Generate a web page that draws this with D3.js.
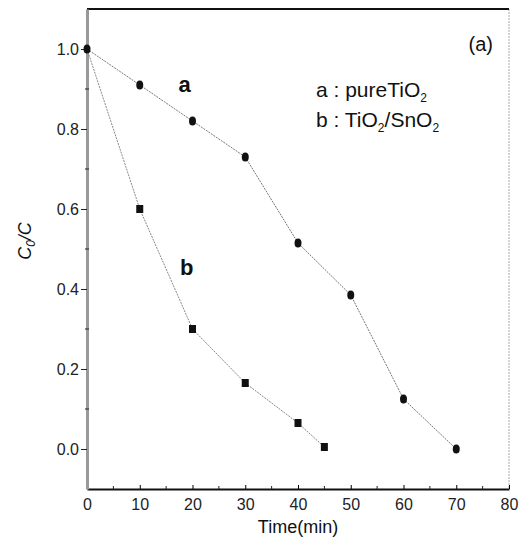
<!DOCTYPE html>
<html>
<head>
<meta charset="utf-8">
<script src="https://cdn.jsdelivr.net/npm/d3@7"></script>
<style>
  body { margin: 0; background: #fff; }
  svg { display: block; font-family: "Liberation Sans", Arial, sans-serif; }
</style>
</head>
<body>
<svg id="chart"></svg>
<script>
// data
var timeA = [0, 10, 20, 30, 40, 50, 60, 70]
var valuesA = [1.0, 0.91, 0.82, 0.73, 0.515, 0.385, 0.125, 0.0]
var timeB = [0, 10, 20, 30, 40, 45]
var valuesB = [1.0, 0.60, 0.30, 0.165, 0.065, 0.005]
var xTicks = [0, 10, 20, 30, 40, 50, 60, 70, 80]
var yTicks = [0.0, 0.2, 0.4, 0.6, 0.8, 1.0]

var width = 519
var height = 547
var margin = ({top: 9, right: 10, bottom: 58, left: 87})

var seriesA = timeA.map((t, i) => ({x: t, y: valuesA[i]}))
var seriesB = timeB.map((t, i) => ({x: t, y: valuesB[i]}))

var x = d3.scaleLinear()
	.domain([0, 80])
	.range([margin.left, width - margin.right])

var y = d3.scaleLinear()
	.domain([-0.1, 1.1])
	.range([height - margin.bottom, margin.top])

var svg = d3.select("#chart")
	.attr("width", width)
	.attr("height", height)
	.attr("viewBox", [0, 0, width, height])

// frame
svg.append("line")
	.attr("x1", x(80)).attr("x2", x(80))
	.attr("y1", y(1.1)).attr("y2", y(-0.1))
	.attr("stroke", "#aaa").attr("stroke-width", 1)
	.attr("stroke-dasharray", "2,1")
svg.append("line")
	.attr("x1", x(0)).attr("x2", x(80))
	.attr("y1", y(1.1)).attr("y2", y(1.1))
	.attr("stroke", "#111").attr("stroke-width", 2)

// x axis (ticks inward)
var xAxis = g => g
	.attr("transform", `translate(0,${y(-0.1)})`)
	.call(d3.axisBottom(x).tickValues(xTicks).tickSize(-4).tickPadding(10).tickSizeOuter(0))
	.call(g => g.select(".domain").attr("stroke", "#111").attr("stroke-width", 2))
	.call(g => g.selectAll("text").attr("font-size", 16).attr("fill", "#222"))

svg.append("g").call(xAxis)

// minor x ticks
svg.append("g")
	.selectAll("line")
	.data(d3.range(5, 80, 10))
	.join("line")
	.attr("x1", d => x(d)).attr("x2", d => x(d))
	.attr("y1", y(-0.1)).attr("y2", y(-0.1) - 3)
	.attr("stroke", "#222")

// y axis (ticks outward)
var yAxis = g => g
	.attr("transform", `translate(${x(0)},0)`)
	.call(d3.axisLeft(y).tickValues(yTicks).tickFormat(d3.format(".1f")).tickSize(6).tickPadding(2).tickSizeOuter(0))
	.call(g => g.select(".domain").attr("stroke", "#999").attr("stroke-width", 3))
	.call(g => g.selectAll(".tick line").attr("stroke", "#222"))
	.call(g => g.selectAll("text").attr("font-size", 16).attr("fill", "#222"))

svg.append("g").call(yAxis)

// minor y ticks
svg.append("g")
	.selectAll("line")
	.data([0.1, 0.3, 0.5, 0.7, 0.9])
	.join("line")
	.attr("x1", x(0) - 2).attr("x2", x(0) + 2)
	.attr("y1", d => y(d)).attr("y2", d => y(d))
	.attr("stroke", "#222")

// lines
var lineFunction = d3.line()
	.x(d => x(d.x))
	.y(d => y(d.y))

svg.append("path")
	.attr("fill", "none")
	.attr("stroke", "#777")
	.attr("stroke-width", 1)
	.attr("stroke-dasharray", "2,1")
	.attr("d", lineFunction(seriesA))

svg.append("path")
	.attr("fill", "none")
	.attr("stroke", "#888")
	.attr("stroke-width", 1)
	.attr("stroke-dasharray", "2,1")
	.attr("d", lineFunction(seriesB))

// markers
svg.append("g")
	.selectAll("ellipse")
	.data(seriesA)
	.join("ellipse")
	.attr("cx", d => x(d.x))
	.attr("cy", d => y(d.y))
	.attr("rx", 3.5)
	.attr("ry", 4.5)
	.attr("fill", "#111")

svg.append("g")
	.selectAll("rect")
	.data(seriesB.slice(1))
	.join("rect")
	.attr("x", d => x(d.x) - 3.5)
	.attr("y", d => y(d.y) - 4)
	.attr("width", 7)
	.attr("height", 8)
	.attr("fill", "#111")

// series labels
svg.append("text")
	.attr("x", x(18.5)).attr("y", y(0.91) + 7)
	.attr("text-anchor", "middle")
	.attr("font-size", 22).attr("font-weight", "bold").attr("fill", "#111")
	.text("a")

svg.append("text")
	.attr("x", x(18.9)).attr("y", y(0.455) + 8)
	.attr("text-anchor", "middle")
	.attr("font-size", 22).attr("font-weight", "bold").attr("fill", "#111")
	.text("b")

// panel tag and legend
svg.append("text")
	.attr("x", 493).attr("y", 51)
	.attr("text-anchor", "end")
	.attr("font-size", 20).attr("fill", "#111")
	.text("(a)")

var leg1 = svg.append("text")
	.attr("x", 316).attr("y", 97)
	.attr("font-size", 21).attr("fill", "#111")
leg1.append("tspan").text("a : pureTiO")
leg1.append("tspan").attr("font-size", 12).attr("dy", 5).text("2")

var leg2 = svg.append("text")
	.attr("x", 316).attr("y", 127)
	.attr("font-size", 21).attr("fill", "#111")
leg2.append("tspan").text("b : TiO")
leg2.append("tspan").attr("font-size", 12).attr("dy", 5).text("2")
leg2.append("tspan").attr("dy", -5).text("/SnO")
leg2.append("tspan").attr("font-size", 12).attr("dy", 5).text("2")

// axis labels
svg.append("text")
	.attr("x", (x(0) + x(80)) / 2).attr("y", 533)
	.attr("text-anchor", "middle")
	.attr("font-size", 18).attr("fill", "#111")
	.text("Time(min)")

var yLabel = svg.append("text")
	.attr("transform", `translate(31,${(y(1.1) + y(-0.1)) / 2 - 8}) rotate(-90)`)
	.attr("text-anchor", "middle")
	.attr("font-size", 18).attr("font-style", "italic").attr("fill", "#111")
yLabel.append("tspan").text("C")
yLabel.append("tspan").attr("font-size", 12).attr("dy", 4).text("0")
yLabel.append("tspan").attr("dy", -4).text("/C")
</script>
</body>
</html>
